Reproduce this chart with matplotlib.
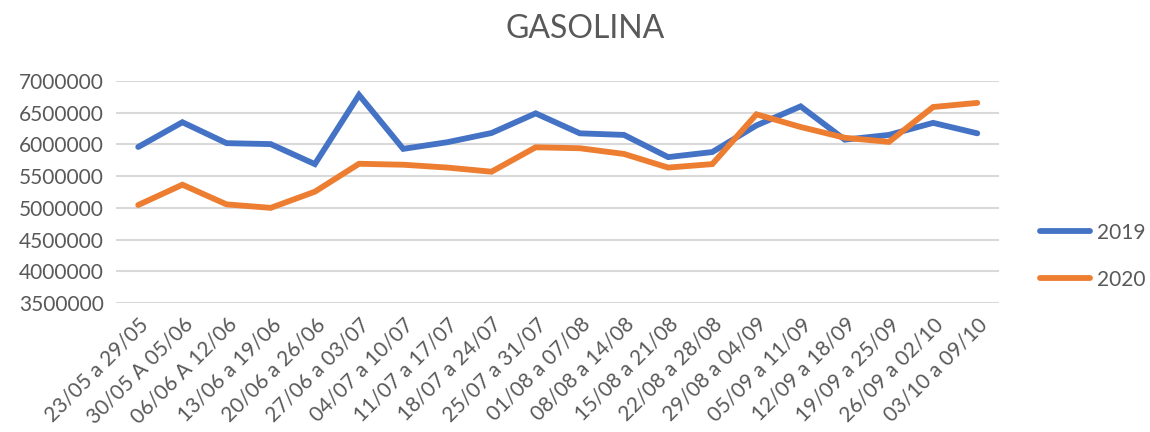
import matplotlib
matplotlib.use("Agg")
import matplotlib.pyplot as plt
import numpy as np


# ==========================
# Data
# ==========================

semanas = [
    "23/05 a 29/05", "30/05 A 05/06", "06/06 A 12/06", "13/06 a 19/06",
    "20/06 a 26/06", "27/06 a 03/07", "04/07 a 10/07", "11/07 a 17/07",
    "18/07 a 24/07", "25/07 a 31/07", "01/08 a 07/08", "08/08 a 14/08",
    "15/08 a 21/08", "22/08 a 28/08", "29/08 a 04/09", "05/09 a 11/09",
    "12/09 a 18/09", "19/09 a 25/09", "26/09 a 02/10", "03/10 a 09/10"
]

vendas_2019 = [
    5960000, 6350000, 6020000, 6005000, 5690000, 6780000, 5930000,
    6035000, 6180000, 6490000, 6175000, 6150000, 5800000, 5880000,
    6300000, 6600000, 6075000, 6150000, 6340000, 6175000
]

vendas_2020 = [
    5045000, 5365000, 5055000, 5000000, 5255000, 5695000, 5680000,
    5635000, 5570000, 5955000, 5940000, 5850000, 5635000, 5690000,
    6475000, 6275000, 6105000, 6040000, 6590000, 6655000
]

y_ticks = list(range(3500000, 7000001, 500000))


# ==========================
# Style
# ==========================

plt.rcParams["font.family"] = ["Lato", "DejaVu Sans"]

TEXT = "#595959"
GRID = "#D9D9D9"
BLUE = "#4472C4"
ORANGE = "#ED7D31"


# ==========================
# Plot
# ==========================

fig = plt.figure(figsize=(11.5, 4.32), dpi=100)
ax = fig.add_axes([0.101, 0.2986, 0.768, 0.5139])

x = np.arange(len(semanas))

ax.plot(x, vendas_2019, color=BLUE, lw=4.2, solid_capstyle="round",
        solid_joinstyle="miter", label="2019", zorder=3)
ax.plot(x, vendas_2020, color=ORANGE, lw=4.2, solid_capstyle="round",
        solid_joinstyle="miter", label="2020", zorder=3)

ax.set_xlim(-0.5, len(semanas) - 0.5)
ax.set_ylim(3500000, 7000000)

ax.set_yticks(y_ticks)
ax.set_yticklabels([str(v) for v in y_ticks], fontsize=15, color=TEXT)

ax.set_xticks(x)
ax.set_xticklabels(semanas, rotation=45, ha="right", va="top",
                   rotation_mode="anchor", fontsize=15, color=TEXT)

ax.tick_params(axis="both", length=0)
ax.tick_params(axis="y", pad=9)
ax.tick_params(axis="x", pad=8)

ax.grid(axis="y", color=GRID, lw=1.5, zorder=0)
for side in ax.spines:
    ax.spines[side].set_visible(False)

fig.suptitle("GASOLINA", x=0.509, y=0.968, fontsize=23, color=TEXT)

fig.legend(
    loc="center left",
    bbox_to_anchor=(1040 / 1150, 0.407),
    frameon=False,
    fontsize=15,
    labelcolor=TEXT,
    handlelength=2.4,
    handletextpad=0.35,
    labelspacing=1.3,
    borderpad=0,
    borderaxespad=0
)

fig.savefig("out.png", dpi=100)
plt.close(fig)
